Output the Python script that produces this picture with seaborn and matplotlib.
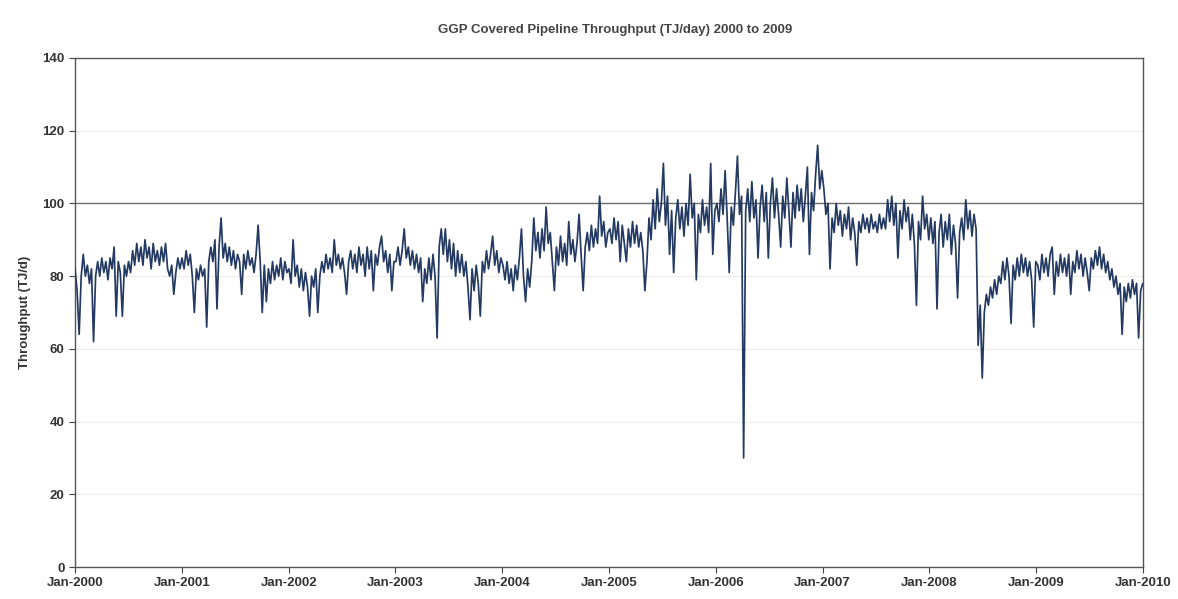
import matplotlib

matplotlib.use("Agg")
import matplotlib.dates as mdates
import matplotlib.pyplot as plt
import pandas as pd
import seaborn as sns

# weekly readings (TJ/day), one list per year
y2000 = [82, 76, 64, 80, 86, 80, 83, 78, 82, 62, 80, 84, 80, 85, 81, 84, 79, 85, 82, 88,
         69, 84, 81, 69, 83, 80, 84, 81, 87, 83, 89, 84, 88, 83, 90, 85, 88, 82, 89, 84,
         87, 83, 88, 84, 89, 82, 80, 83, 75, 81, 85, 82]
y2001 = [85, 82, 87, 83, 86, 80, 70, 82, 79, 83, 80, 82, 66, 84, 88, 84, 90, 71, 88, 96,
         85, 89, 84, 88, 83, 87, 82, 86, 84, 75, 86, 82, 87, 83, 85, 81, 86, 94, 84, 70,
         83, 73, 82, 78, 84, 79, 83, 80, 85, 79, 84, 81]
y2002 = [82, 78, 90, 80, 83, 77, 82, 76, 81, 77, 69, 80, 77, 82, 70, 80, 84, 81, 86, 82,
         85, 81, 90, 83, 86, 82, 85, 81, 75, 84, 87, 82, 86, 81, 88, 83, 86, 80, 88, 82,
         87, 76, 86, 83, 88, 91, 84, 87, 81, 86, 76, 84]
y2003 = [84, 88, 83, 87, 93, 85, 88, 83, 87, 82, 86, 81, 85, 73, 82, 78, 85, 79, 86, 80,
         63, 88, 93, 86, 93, 84, 90, 82, 89, 80, 87, 81, 86, 80, 84, 77, 68, 82, 76, 83,
         78, 69, 84, 81, 87, 82, 86, 91, 83, 87, 81, 85]
y2004 = [83, 79, 84, 78, 82, 76, 83, 79, 85, 93, 80, 73, 82, 77, 84, 96, 87, 92, 85, 93,
         87, 99, 89, 92, 84, 76, 88, 83, 91, 84, 89, 83, 95, 86, 90, 84, 89, 97, 86, 76,
         88, 92, 87, 94, 88, 93, 89, 102, 91, 95, 88, 92]
y2005 = [93, 89, 96, 90, 95, 84, 94, 89, 84, 93, 88, 95, 89, 94, 88, 92, 87, 76, 84, 96,
         90, 101, 93, 104, 95, 100, 111, 94, 102, 86, 98, 81, 96, 101, 93, 99, 91, 100, 94, 108,
         96, 100, 79, 97, 92, 101, 94, 99, 92, 111, 86, 98]
y2006 = [100, 95, 104, 97, 109, 96, 81, 99, 94, 103, 113, 97, 102, 30, 98, 104, 95, 106, 96, 101,
         85, 99, 105, 95, 103, 85, 100, 107, 96, 104, 97, 88, 102, 96, 107, 98, 88, 103, 96, 105,
         98, 104, 95, 102, 110, 86, 103, 98, 108, 116, 104, 109]
y2007 = [104, 97, 100, 82, 96, 92, 100, 94, 98, 91, 97, 93, 99, 90, 96, 92, 83, 95, 92, 97,
         93, 96, 92, 97, 93, 95, 92, 97, 93, 96, 93, 101, 95, 102, 94, 100, 85, 98, 93, 101,
         95, 99, 90, 97, 89, 72, 95, 90, 102, 93, 97, 90]
y2008 = [96, 89, 95, 71, 92, 97, 88, 95, 90, 97, 86, 94, 89, 74, 92, 96, 90, 101, 93, 98,
         91, 97, 93, 61, 72, 52, 70, 75, 72, 77, 74, 79, 75, 80, 78, 84, 79, 85, 80, 67,
         83, 79, 85, 80, 86, 81, 85, 80, 84, 79, 66, 84]
y2009 = [83, 79, 86, 81, 85, 80, 86, 88, 75, 84, 80, 86, 81, 85, 80, 86, 75, 84, 81, 87,
         82, 86, 80, 85, 81, 76, 85, 82, 87, 83, 88, 82, 86, 81, 84, 79, 82, 77, 80, 75,
         78, 64, 77, 73, 78, 74, 79, 75, 78, 63, 76, 78]

throughput = y2000 + y2001 + y2002 + y2003 + y2004 + y2005 + y2006 + y2007 + y2008 + y2009
dates = pd.date_range("2000-01-01", "2009-12-31", periods=len(throughput))
df = pd.DataFrame({"date": dates, "throughput": throughput})

year_ticks = pd.date_range("2000-01-01", "2010-01-01", freq="YS")
y_ticks = [0, 20, 40, 60, 80, 100, 120, 140]

sns.set_theme(style="white")
plt.rcParams["font.family"] = ["Liberation Sans", "DejaVu Sans"]

fig = plt.figure(figsize=(11.78, 5.99), dpi=100)
ax = fig.add_axes([0.0637, 0.0534, 0.9066, 0.8498])

# Excel-style gridlines: only the 100 line shows clearly in the scan
for v in y_ticks[1:-1]:
    if v == 100:
        ax.axhline(v, color="#6b6b6b", linewidth=1.0, zorder=1)
    else:
        ax.axhline(v, color="#ececec", linewidth=0.8, zorder=1)

sns.lineplot(data=df, x="date", y="throughput", ax=ax, color="#243a63", linewidth=1.25, zorder=3)

ax.set_xlim(year_ticks[0], year_ticks[-1])
ax.set_ylim(0, 140)
ax.set_yticks(y_ticks)
ax.set_xticks(year_ticks)
ax.xaxis.set_major_formatter(mdates.DateFormatter("Jan-%Y"))

ax.tick_params(axis="both", which="major", direction="out", length=4, width=0.8,
               color="#444444", labelsize=9.5, labelcolor="#333333", bottom=True, left=True)
for lbl in ax.get_xticklabels() + ax.get_yticklabels():
    lbl.set_fontweight("bold")

for side in ["left", "bottom", "top", "right"]:
    ax.spines[side].set_color("#555555")
    ax.spines[side].set_linewidth(1.0)

ax.set_xlabel("")
ax.set_ylabel("Throughput (TJ/d)", fontsize=9.5, fontweight="bold", color="#333333", labelpad=8)
fig.suptitle("GGP Covered Pipeline Throughput (TJ/day) 2000 to 2009", x=0.522, y=0.96,
             fontsize=9.5, fontweight="bold", color="#444444")

fig.savefig("out.png", dpi=100)
plt.close(fig)
